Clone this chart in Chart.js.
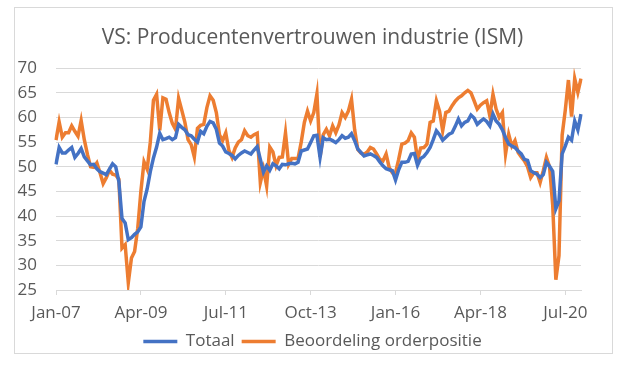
<!DOCTYPE html>
<html>
<head>
<meta charset="utf-8">
<script src="https://cdn.jsdelivr.net/npm/chart.js@4/dist/chart.umd.min.js"></script>
<style>
  html, body { margin: 0; padding: 0; background: #fff; }
  #wrap { position: relative; width: 625px; height: 373px; }
  #frame { position: absolute; left: 14px; top: 7px; width: 597px; height: 345px; border: 1px solid #d9d9d9; pointer-events: none; }
  canvas { position: absolute; left: 0; top: 0; }
</style>
</head>
<body>
<div id="wrap">
  <canvas id="ismChart" width="625" height="373"></canvas>
  <div id="frame"></div>
</div>
<script>
// maanden jan 2007 - dec 2020
const months = ['Jan', 'Feb', 'Mar', 'Apr', 'May', 'Jun', 'Jul', 'Aug', 'Sep', 'Oct', 'Nov', 'Dec'];
const years = ['07', '08', '09', '10', '11', '12', '13', '14', '15', '16', '17', '18', '19', '20'];
const labels = [];
years.forEach(y => months.forEach(m => labels.push(m + '-' + y)));

const totaal = [
  50.5, 53.9, 52.8, 52.8, 53.4, 53.9, 51.9, 52.7, 53.7, 52.0, 51.2, 50.4,
  50.5, 49.6, 49.0, 48.7, 48.4, 49.5, 50.6, 50.0, 47.0, 39.5, 38.6, 35.2,
  35.6, 36.3, 36.8, 37.8, 43.0, 45.5, 49.0, 51.8, 54.0, 56.8, 55.5, 55.7,
  56.0, 55.5, 55.9, 58.6, 58.0, 57.5, 56.5, 56.3, 55.6, 55.0, 57.2, 56.7,
  58.2, 59.2, 58.9, 57.6, 54.8, 54.2, 53.0, 52.7, 52.3, 51.6, 52.3, 52.8,
  53.2, 52.9, 52.6, 53.4, 54.1, 51.5, 48.9, 50.2, 49.3, 50.6, 50.2, 49.6,
  50.5, 50.4, 50.6, 50.7, 50.6, 50.9, 53.2, 53.4, 53.6, 54.9, 56.3, 56.4,
  51.9, 55.9, 55.5, 55.6, 55.3, 54.9, 55.5, 56.3, 55.8, 56.0, 56.7, 55.3,
  53.6, 52.9, 52.2, 52.4, 52.6, 52.3, 51.9, 51.0, 50.2, 49.6, 49.4, 49.2,
  47.3, 49.4, 50.9, 50.9, 51.1, 52.6, 52.7, 50.3, 51.7, 52.1, 52.9, 53.9,
  55.5, 57.3, 56.5, 55.4, 56.0, 56.6, 56.9, 58.2, 59.7, 58.3, 59.0, 59.3,
  60.5, 59.9, 58.6, 59.2, 59.7, 59.2, 58.3, 60.7, 59.3, 58.6, 57.5, 55.9,
  54.6, 54.2, 53.9, 53.2, 52.6, 51.5, 51.3, 49.2, 48.8, 48.5, 47.8, 48.4,
  50.9, 50.1, 49.1, 41.5, 43.1, 52.6, 54.2, 56.0, 55.4, 59.3, 57.5, 60.7
];

const orderpositie = [
  55.4, 59.1, 56.0, 56.9, 56.9, 58.3, 57.2, 56.2, 59.4, 55.5, 52.5, 50.0,
  49.9, 50.8, 48.8, 46.6, 47.8, 49.3, 48.5, 48.3, 47.5, 33.5, 34.2, 26.5,
  31.5, 32.8, 37.5, 45.0, 51.0, 49.5, 55.0, 63.5, 64.7, 57.4, 64.0, 63.7,
  61.0, 58.8, 57.6, 63.9, 61.5, 59.0, 55.5, 54.5, 52.0, 57.8, 58.4, 58.6,
  62.0, 64.4, 63.5, 61.0, 56.5, 55.3, 56.9, 53.3, 51.9, 53.8, 55.0, 55.5,
  57.3, 56.3, 56.0, 56.5, 56.8, 46.8, 49.5, 46.1, 54.0, 53.0, 50.2, 51.9,
  52.0, 56.9, 50.5, 51.7, 51.7, 51.7, 55.0, 59.0, 61.3, 59.3, 61.0, 64.8,
  52.0, 56.5, 57.6, 56.3, 58.3, 56.9, 58.5, 61.0, 60.0, 61.3, 63.7, 57.5,
  53.5, 52.8, 52.5, 53.0, 53.9, 53.6, 52.6, 51.5, 51.2, 52.6, 49.8, 48.8,
  48.8, 51.5, 54.6, 54.8, 55.3, 56.9, 56.0, 51.5, 53.8, 53.9, 54.6, 59.0,
  59.3, 63.4, 61.3, 57.3, 61.0, 61.3, 62.4, 63.3, 64.0, 64.4, 65.0, 65.5,
  65.0, 63.4, 61.7, 62.5, 63.0, 63.4, 60.3, 64.7, 61.7, 60.0, 61.0, 52.6,
  56.6, 54.2, 55.3, 52.9, 52.0, 51.2, 50.0, 47.8, 48.8, 48.8, 46.8, 49.2,
  51.9, 50.0, 42.2, 27.1, 32.0, 56.4, 61.5, 67.6, 60.2, 67.9, 65.1, 67.9
];

const yTicks = [25, 30, 35, 40, 45, 50, 55, 60, 65, 70];
const labelStep = 27; // Jan-07, Apr-09, Jul-11 ...

const tekst = '#595959';
const grijs = '#d9d9d9';
const lettertype = 'Open Sans';

const ctx = document.getElementById('ismChart').getContext('2d');
const ismChart = new Chart(ctx, {
  type: 'line',
  data: {
    labels: labels,
    datasets: [
      {
        label: 'Totaal',
        data: totaal,
        borderColor: '#4472C4',
        backgroundColor: '#4472C4',
        borderWidth: 3.5,
        pointRadius: 0,
        tension: 0,
        fill: false
      },
      {
        label: 'Beoordeling orderpositie',
        data: orderpositie,
        borderColor: '#ED7D31',
        backgroundColor: '#ED7D31',
        borderWidth: 3.5,
        pointRadius: 0,
        tension: 0,
        fill: false
      }
    ]
  },
  options: {
    responsive: false,
    animation: false,
    devicePixelRatio: 1,
    layout: {
      padding: { left: 17, right: 17, top: 10, bottom: 13 }
    },
    scales: {
      x: {
        offset: false,
        border: { display: true, color: grijs, width: 1 },
        grid: {
          drawOnChartArea: false,
          drawTicks: true,
          tickLength: 5,
          color: c => (c.index % labelStep === 0 ? grijs : 'rgba(0,0,0,0)')
        },
        ticks: {
          autoSkip: false,
          maxRotation: 0,
          minRotation: 0,
          padding: 10,
          color: tekst,
          font: { family: lettertype, size: 17, lineHeight: 1 },
          callback: (v, i) => (i % labelStep === 0 ? labels[i] : '')
        },
        // vaste hoogte zodat de legenda dicht onder de aslabels komt
        afterFit: a => { a.paddingLeft = 0; a.paddingRight = 0; a.height = 36; }
      },
      y: {
        min: 25,
        max: 70,
        border: { display: false },
        grid: { color: grijs, lineWidth: 1, drawTicks: false },
        afterBuildTicks: axis => { axis.ticks = yTicks.map(v => ({ value: v })); },
        afterFit: a => { a.width = 39; },
        ticks: {
          padding: 19,
          color: tekst,
          font: { family: lettertype, size: 17 }
        }
      },
      // lege as rechts zodat titel en legenda midden in het kader staan
      rechts: {
        position: 'right',
        display: true,
        grid: { display: false },
        border: { display: false },
        ticks: { display: false },
        afterFit: a => { a.width = 27; }
      }
    },
    plugins: {
      title: {
        display: true,
        text: 'VS: Producentenvertrouwen industrie (ISM)',
        color: tekst,
        font: { family: lettertype, size: 21, weight: 'normal' },
        padding: { top: 15, bottom: 18 }
      },
      legend: {
        display: true,
        position: 'bottom',
        labels: {
          usePointStyle: true,
          pointStyle: 'line',
          pointStyleWidth: 34,
          color: tekst,
          padding: 7,
          font: { family: lettertype, size: 17 }
        }
      },
      tooltip: { enabled: false }
    }
  }
});
</script>
</body>
</html>
